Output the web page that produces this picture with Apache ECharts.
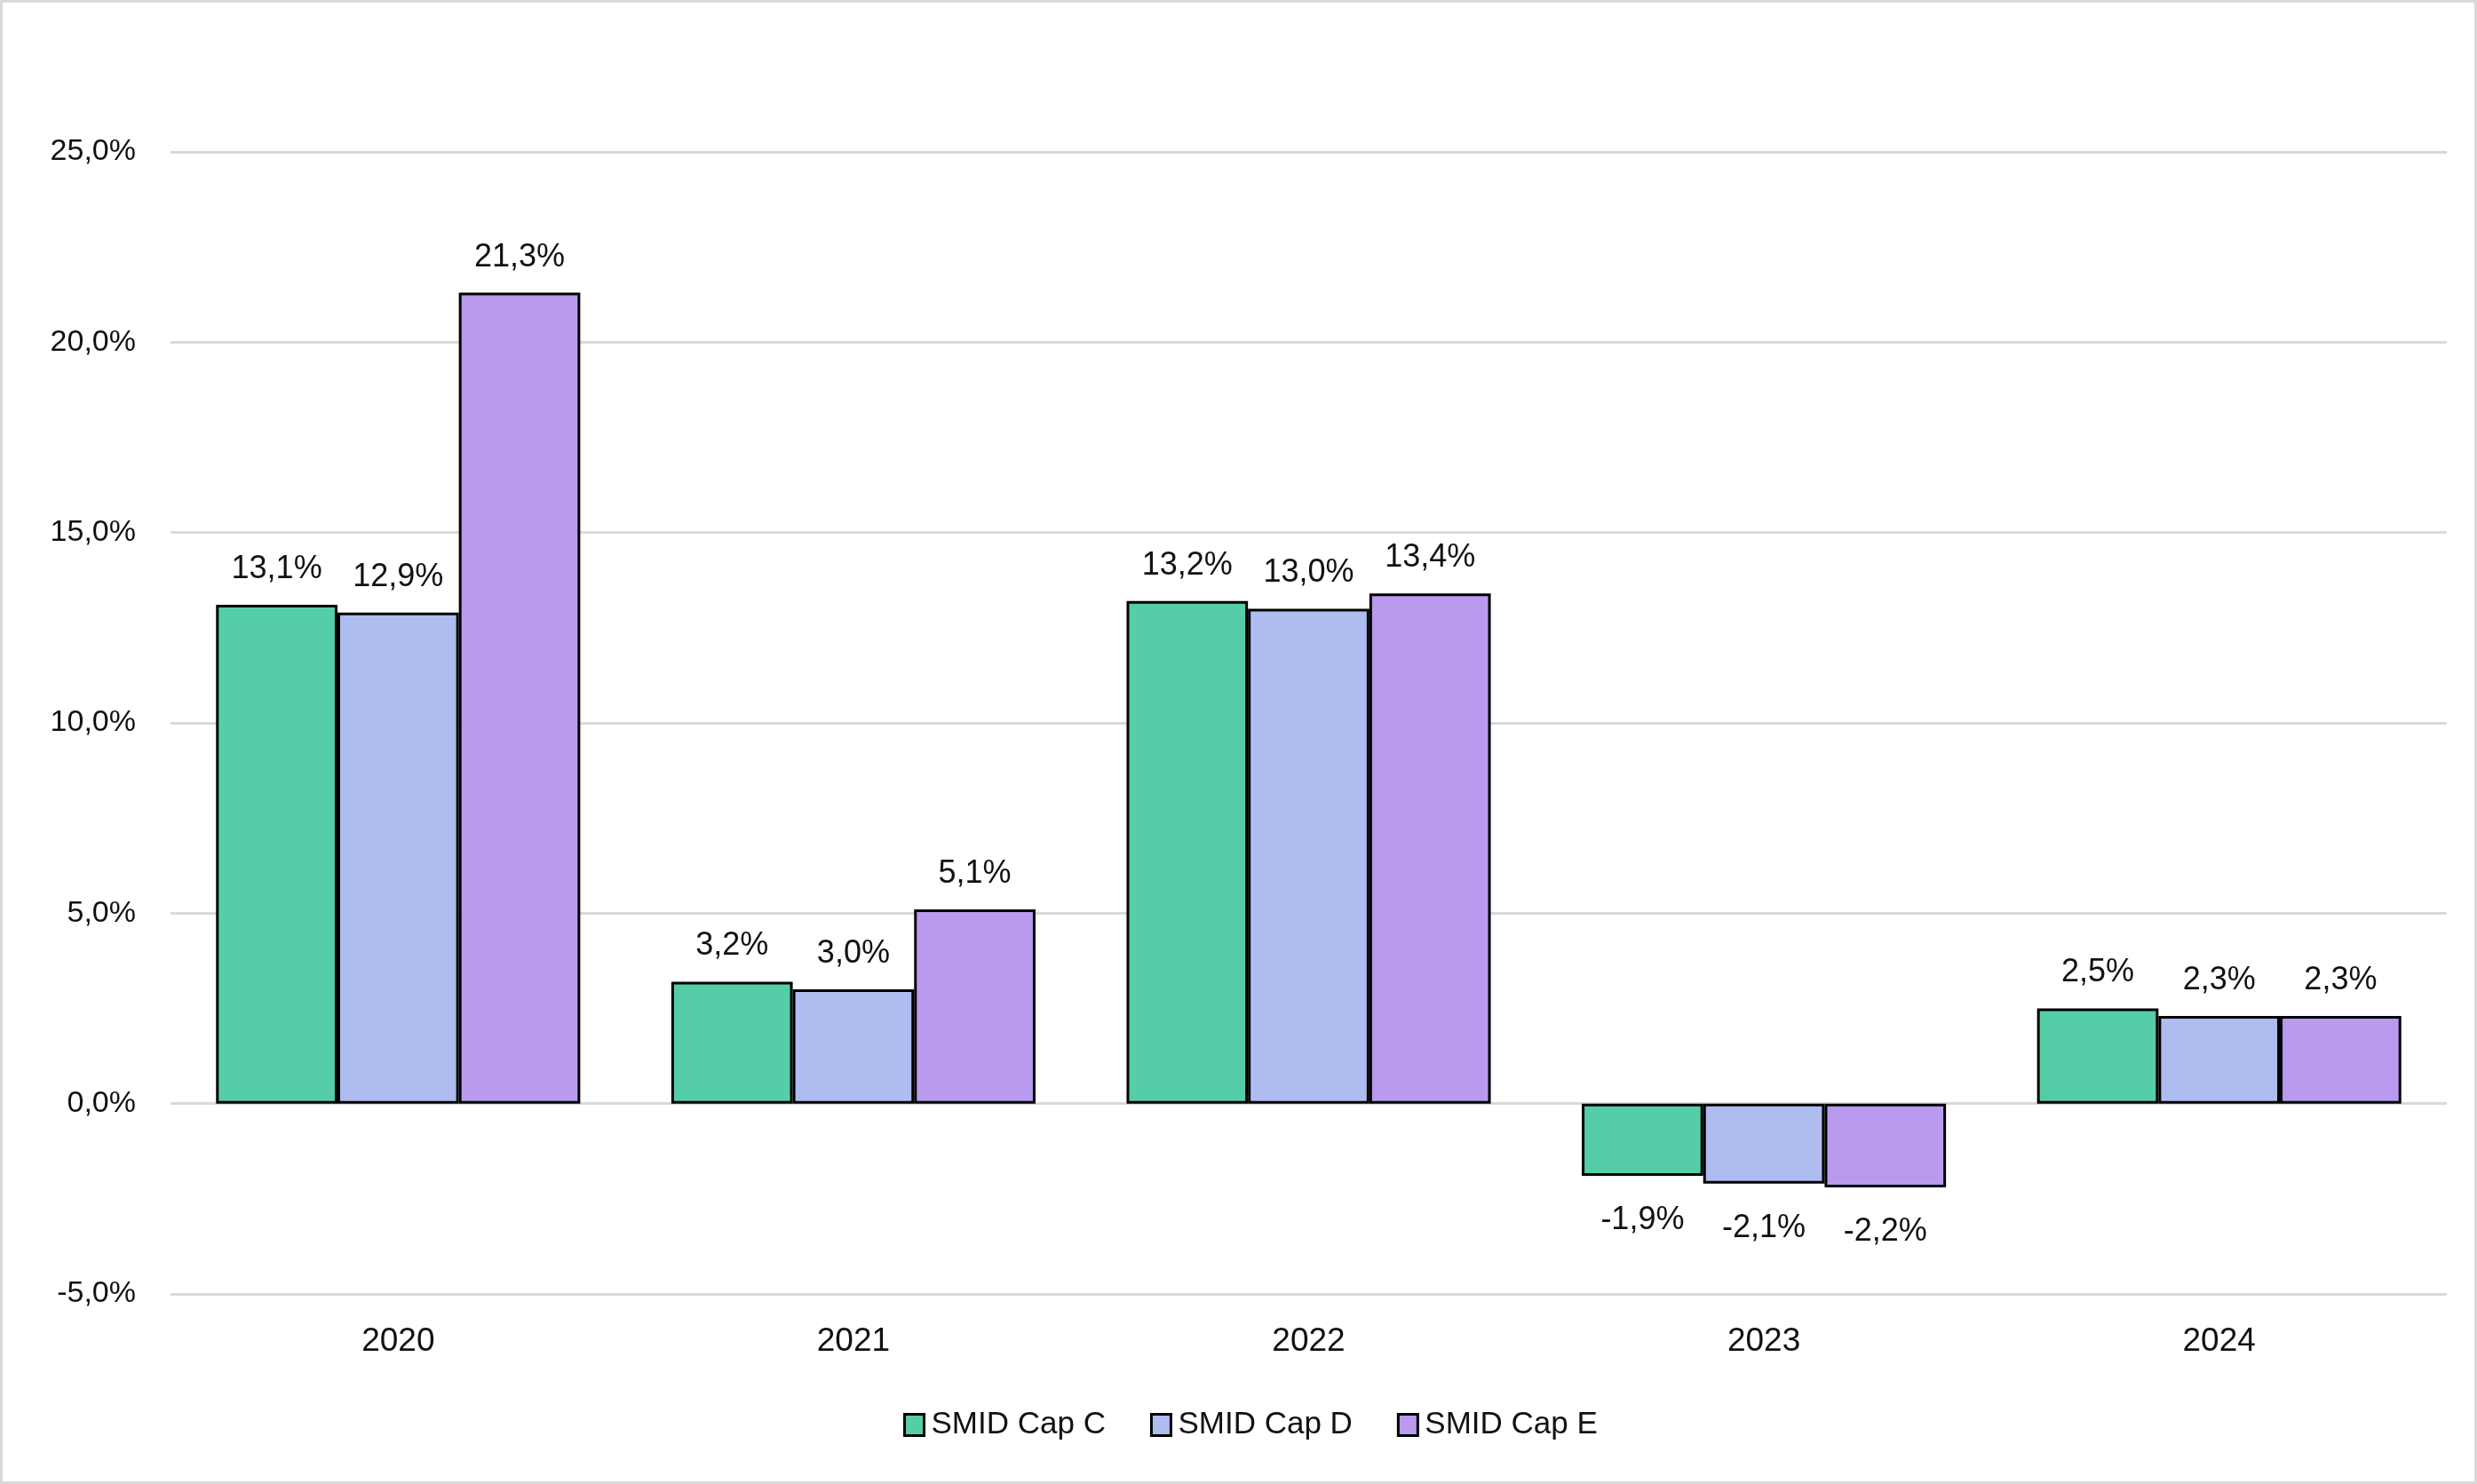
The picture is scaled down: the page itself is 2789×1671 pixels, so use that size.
<!DOCTYPE html>
<html>
<head>
<meta charset="utf-8">
<script src="https://cdn.jsdelivr.net/npm/echarts@6/dist/echarts.min.js"></script>
<style>
html,body{margin:0;padding:0;background:#fff;}
#chart{width:2789px;height:1671px;}
</style>
</head>
<body>
<div id="chart"></div>
<script>
var categories = ['2020', '2021', '2022', '2023', '2024'];
var seriesNames = ['SMID Cap C', 'SMID Cap D', 'SMID Cap E'];
var capC = [13.1, 3.2, 13.2, -1.9, 2.5];
var capD = [12.9, 3.0, 13.0, -2.1, 2.3];
var capE = [21.3, 5.1, 13.4, -2.2, 2.3];
var colors = ['#55CDA9', '#AEBCF0', '#B99AEE'];

var FONT = 'Liberation Sans, Arial, sans-serif';
function fmt(v) { return v.toFixed(1).replace('.', ',') + '%'; }

function makeSeries(name, values, color) {
  return {
    name: name,
    type: 'bar',
    barGap: '0%',
    barCategoryGap: '20%',
    itemStyle: { color: color, borderColor: '#000', borderWidth: 3 },
    data: values.map(function (v) {
      return {
        value: v,
        label: {
          show: true,
          position: v < 0 ? 'bottom' : 'top',
          distance: v < 0 ? 32 : 22,
          formatter: function (p) { return fmt(p.value); },
          fontFamily: FONT,
          fontSize: 36,
          color: '#111'
        }
      };
    })
  };
}

var chart = echarts.init(document.getElementById('chart'), null, { renderer: 'canvas' });
chart.setOption({
  backgroundColor: '#fff',
  animation: false,
  graphic: [{
    type: 'rect',
    shape: { x: 1.5, y: 1.5, width: 2786, height: 1668 },
    style: { fill: 'none', stroke: '#D9D9D9', lineWidth: 3 },
    z: 100
  }],
  grid: { left: 192, right: 34, top: 171, bottom: 214, containLabel: false },
  legend: {
    data: seriesNames,
    left: 1012,
    top: 1582,
    itemWidth: 22,
    itemHeight: 24,
    itemGap: 50,
    icon: 'rect',
    itemStyle: { borderColor: '#000', borderWidth: 3 },
    textStyle: { fontFamily: FONT, fontSize: 35, color: '#111', padding: [0, 0, 0, 3] }
  },
  xAxis: {
    type: 'category',
    data: categories,
    axisLine: { show: false },
    axisTick: { show: false },
    axisLabel: { fontFamily: FONT, fontSize: 37, color: '#111', margin: 35 }
  },
  yAxis: {
    type: 'value',
    min: -5,
    max: 25,
    interval: 5,
    axisLine: { show: false },
    axisTick: { show: false },
    splitLine: { lineStyle: { color: '#D9D9D9', width: 3 } },
    axisLabel: {
      fontFamily: FONT, fontSize: 34, color: '#111', margin: 39,
      formatter: function (v) { return fmt(v); }
    }
  },
  series: [
    makeSeries(seriesNames[0], capC, colors[0]),
    makeSeries(seriesNames[1], capD, colors[1]),
    makeSeries(seriesNames[2], capE, colors[2])
  ]
});
</script>
</body>
</html>
